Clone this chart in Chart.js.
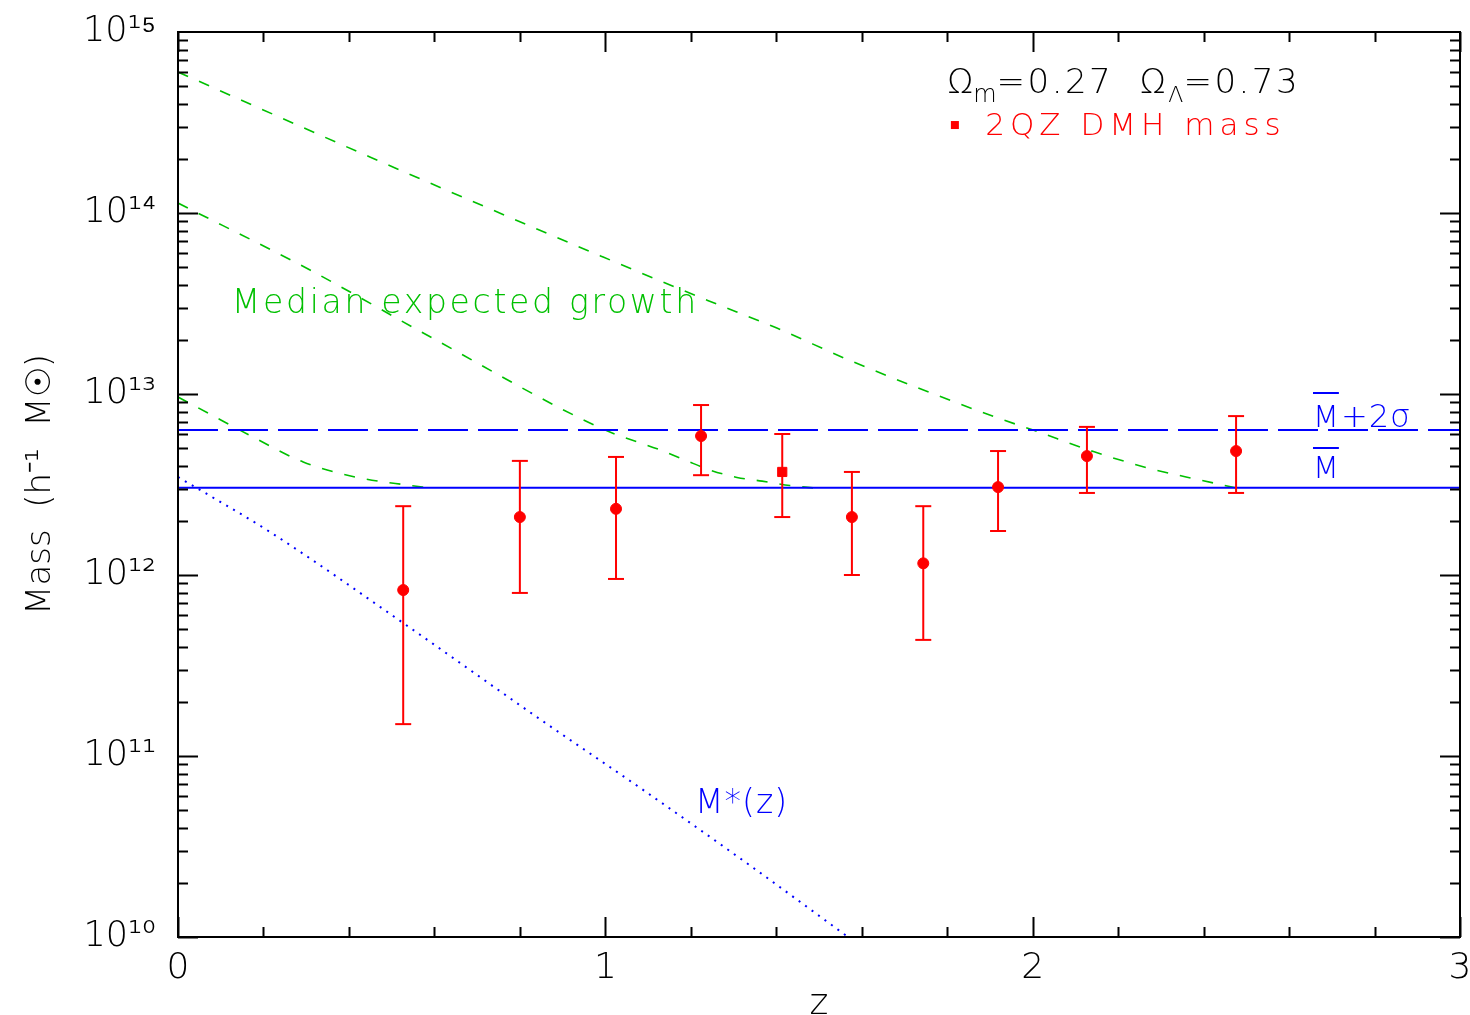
<!DOCTYPE html>
<html>
<head>
<meta charset="utf-8">
<script src="https://cdn.jsdelivr.net/npm/chart.js@4.4.1/dist/chart.umd.min.js"></script>
<style>
  html, body { margin: 0; padding: 0; background: #fff; }
  #wrap { width: 1470px; height: 1015px; position: relative; }
</style>
</head>
<body>
<div id="wrap"><canvas id="chart"></canvas></div>
<script>
// 2QZ quasar dark-matter-halo masses vs redshift
const redshift = [0.527, 0.80, 1.025, 1.224, 1.414, 1.577, 1.744, 1.919, 2.127, 2.476];
const haloMass = [8.26e11, 2.09e12, 2.32e12, 5.86e12, 3.71e12, 2.09e12, 1.16e12, 3.06e12, 4.54e12, 4.84e12];
const haloMassLow = [1.50e11, 7.96e11, 9.51e11, 3.56e12, 2.09e12, 1.00e12, 4.38e11, 1.75e12, 2.84e12, 2.84e12];
const haloMassHigh = [2.40e12, 4.27e12, 4.49e12, 8.69e12, 6.01e12, 3.71e12, 2.40e12, 4.84e12, 6.58e12, 7.55e12];

const meanMass = 3.03e12;
const meanPlus2Sigma = 6.32e12;

// median expected growth tracks (three starting redshifts)
const growthZ1 = [0, 0.449, 0.995, 1.238, 1.400, 1.570, 1.732, 1.912, 2.001, 2.144, 2.270, 2.359, 2.476];
const growthM1 = [6.01e14, 2.04e14, 5.71e13, 3.30e13, 2.32e13, 1.54e13, 1.08e13, 7.46e12, 6.32e12, 4.79e12, 3.90e12, 3.48e12, 3.03e12];
const growthZ2 = [0, 0.309, 0.590, 1.0, 1.128, 1.187, 1.245, 1.308, 1.367, 1.432, 1.486];
const growthM2 = [1.135e14, 4.84e13, 2.07e13, 6.32e12, 4.91e12, 4.31e12, 3.80e12, 3.46e12, 3.30e12, 3.12e12, 3.03e12];
const growthZ3 = [0, 0.070, 0.180, 0.293, 0.414, 0.536, 0.590];
const growthM3 = [9.62e12, 7.85e12, 5.71e12, 4.21e12, 3.48e12, 3.14e12, 3.03e12];

// characteristic mass M*(z)
const mStarZ = [0, 0.215, 0.527, 0.840, 1.105, 1.339, 1.568];
const mStarM = [3.48e12, 1.73e12, 5.43e11, 1.64e11, 6.10e10, 2.48e10, 1.0e10];

const xTicks = [0, 1, 2, 3];
const yDecades = [10, 11, 12, 13, 14, 15];

const FONT = "'DejaVu Sans', sans-serif";
const WEIGHT = 200;
const RED = "#ff0000";
const BLUE = "#0000ff";
const GREEN = "#00c000";

const SUP = { "0": "\u2070", "1": "\u00b9", "2": "\u00b2", "3": "\u00b3", "4": "\u2074", "5": "\u2075", "6": "\u2076", "7": "\u2077", "8": "\u2078", "9": "\u2079" };
const sup = (n) => String(n).split("").map((c) => SUP[c]).join("");

const pairs = (xs, ys) => xs.map((x, i) => ({ x, y: ys[i] }));

const errorSegments = redshift.flatMap((z, i) => [
  { x: z, y: haloMassLow[i] },
  { x: z, y: haloMassHigh[i] },
  { x: z, y: null },
]);
const errorCaps = redshift.flatMap((z, i) => [
  { x: z, y: haloMassLow[i] },
  { x: z, y: haloMassHigh[i] },
]);

function growthDataset(xs, ys) {
  return {
    data: pairs(xs, ys),
    borderColor: GREEN,
    borderWidth: 1.6,
    borderDash: [11, 12],
    cubicInterpolationMode: "monotone",
    pointRadius: 0,
    fill: false,
    order: 5,
  };
}

function drawRuns(ctx, x0, baseY, runs) {
  let x = x0;
  for (const r of runs) {
    ctx.font = `${WEIGHT} ${r.size}px ${FONT}`;
    ctx.letterSpacing = r.spacing || "0px";
    ctx.fillText(r.text, x, baseY + (r.dy || 0));
    x += ctx.measureText(r.text).width;
  }
  ctx.letterSpacing = "0px";
  return x;
}

const frameAndLabels = {
  id: "frameAndLabels",
  afterDatasetsDraw(chart) {
    const { ctx, chartArea: a, scales } = chart;
    const xs = scales.x;
    const ys = scales.y;
    const px = (z) => xs.getPixelForValue(z);
    const py = (logm) => ys.getPixelForValue(Math.pow(10, logm));

    ctx.save();
    ctx.strokeStyle = "#000";
    ctx.lineWidth = 2;
    ctx.strokeRect(a.left, a.top, a.right - a.left, a.bottom - a.top);

    // inward ticks on all four sides
    ctx.beginPath();
    for (let i = 0; i <= 15; i++) {
      const len = i % 5 === 0 ? 20 : 10;
      const x = Math.round(px(i / 5)) + 0.5;
      ctx.moveTo(x, a.bottom);
      ctx.lineTo(x, a.bottom - len);
      ctx.moveTo(x, a.top);
      ctx.lineTo(x, a.top + len);
    }
    for (let p = yDecades[0]; p < yDecades[yDecades.length - 1]; p++) {
      for (let k = 1; k < 10; k++) {
        const len = k === 1 ? 20 : 10;
        const y = Math.round(ys.getPixelForValue(k * Math.pow(10, p))) + 0.5;
        ctx.moveTo(a.left, y);
        ctx.lineTo(a.left + len, y);
        ctx.moveTo(a.right, y);
        ctx.lineTo(a.right - len, y);
      }
    }
    ctx.stroke();

    ctx.textBaseline = "alphabetic";
    ctx.textAlign = "left";

    // cosmology line
    ctx.fillStyle = "#000";
    drawRuns(ctx, px(1.80), py(14.663), [
      { text: "\u03a9", size: 34 },
      { text: "m", size: 24, dy: 9 },
      { text: "=0.27  \u03a9", size: 34, spacing: "2.5px" },
      { text: "\u039b", size: 22, dy: 9 },
      { text: "=0.73", size: 34, spacing: "2.5px" },
    ]);

    // data legend
    ctx.fillStyle = RED;
    const dx = px(1.818);
    const dy = py(14.486);
    ctx.fillRect(dx - 4, dy - 4, 8, 8);
    drawRuns(ctx, px(1.889), py(14.431), [{ text: "2QZ DMH mass", size: 31, spacing: "5px" }]);

    ctx.fillStyle = GREEN;
    drawRuns(ctx, px(0.126), py(13.448), [{ text: "Median expected growth", size: 33, spacing: "2.7px" }]);

    ctx.fillStyle = BLUE;
    ctx.strokeStyle = BLUE;
    ctx.lineWidth = 2;
    const mx = px(2.656);
    const b1 = py(12.818);
    const end1 = drawRuns(ctx, mx, b1, [{ text: "M", size: 30 }]);
    drawRuns(ctx, end1 + 2, b1, [{ text: "+2\u03c3", size: 32, spacing: "1px" }]);
    const b2 = py(12.536);
    const end2 = drawRuns(ctx, mx, b2, [{ text: "M", size: 30 }]);
    ctx.beginPath();
    ctx.moveTo(mx, b1 - 34);
    ctx.lineTo(end1, b1 - 34);
    ctx.moveTo(mx, b2 - 30);
    ctx.lineTo(end2, b2 - 30);
    ctx.stroke();

    drawRuns(ctx, px(1.21), py(10.685), [{ text: "M*(z)", size: 33, spacing: "1px" }]);
    ctx.restore();
  },
};

Chart.register(frameAndLabels);

new Chart(document.getElementById("chart"), {
  type: "line",
  data: {
    datasets: [
      {
        data: pairs(redshift, haloMass),
        showLine: false,
        pointStyle: (c) => (c.dataIndex === 4 ? "rect" : "circle"),
        pointRadius: (c) => (c.dataIndex === 4 ? 6.5 : 5.5),
        pointBackgroundColor: RED,
        pointBorderColor: RED,
        pointBorderWidth: 1,
        order: 0,
      },
      {
        data: errorSegments,
        borderColor: RED,
        borderWidth: 2,
        spanGaps: false,
        pointRadius: 0,
        order: 1,
      },
      {
        data: errorCaps,
        showLine: false,
        pointStyle: "line",
        pointRadius: 8,
        pointBorderColor: RED,
        pointBorderWidth: 2,
        order: 1,
      },
      {
        data: [{ x: 0, y: meanMass }, { x: 3, y: meanMass }],
        borderColor: BLUE,
        borderWidth: 2,
        pointRadius: 0,
        order: 3,
      },
      {
        data: [{ x: 0, y: meanPlus2Sigma }, { x: 3, y: meanPlus2Sigma }],
        borderColor: BLUE,
        borderWidth: 2,
        borderDash: [40, 10],
        pointRadius: 0,
        order: 3,
      },
      {
        data: pairs(mStarZ, mStarM),
        borderColor: BLUE,
        borderWidth: 2,
        borderDash: [2, 6],
        cubicInterpolationMode: "monotone",
        pointRadius: 0,
        order: 4,
      },
      growthDataset(growthZ1, growthM1),
      growthDataset(growthZ2, growthM2),
      growthDataset(growthZ3, growthM3),
    ],
  },
  options: {
    responsive: true,
    maintainAspectRatio: false,
    animation: false,
    layout: { padding: { top: 32, right: 10, left: 0, bottom: 0 } },
    plugins: {
      legend: { display: false },
      tooltip: { enabled: false },
    },
    scales: {
      x: {
        type: "linear",
        min: 0,
        max: 3,
        afterBuildTicks: (s) => { s.ticks = xTicks.map((v) => ({ value: v })); },
        afterFit: (s) => {
          s.height = 78;
          s.paddingLeft = 0;
          s.paddingRight = 0;
        },
        ticks: {
          color: "#000",
          font: { family: FONT, size: 36, weight: WEIGHT },
          padding: 10,
          maxRotation: 0,
          callback: (v) => String(v),
        },
        grid: { display: false, drawTicks: false },
        border: { display: false },
        title: {
          display: true,
          text: "z",
          color: "#000",
          font: { family: FONT, size: 36, lineHeight: 1, weight: WEIGHT },
          padding: { top: 0, bottom: -8 },
        },
      },
      y: {
        type: "logarithmic",
        min: 1e10,
        max: 1e15,
        afterBuildTicks: (s) => { s.ticks = yDecades.map((p) => ({ value: Math.pow(10, p) })); },
        afterFit: (s) => {
          s.width = 178;
          s.paddingTop = 0;
          s.paddingBottom = 0;
        },
        ticks: {
          color: "#000",
          font: { family: FONT, size: 35, weight: WEIGHT },
          padding: 22,
          autoSkip: false,
          callback: (v) => "10" + sup(Math.round(Math.log10(v))),
        },
        grid: { display: false, drawTicks: false },
        border: { display: false },
        title: {
          display: true,
          text: "Mass  (h\u207b\u00b9  M\u2609)",
          color: "#000",
          font: { family: FONT, size: 34, lineHeight: 1, weight: WEIGHT },
          padding: { top: 24, bottom: 0 },
        },
      },
    },
  },
});
</script>
</body>
</html>
